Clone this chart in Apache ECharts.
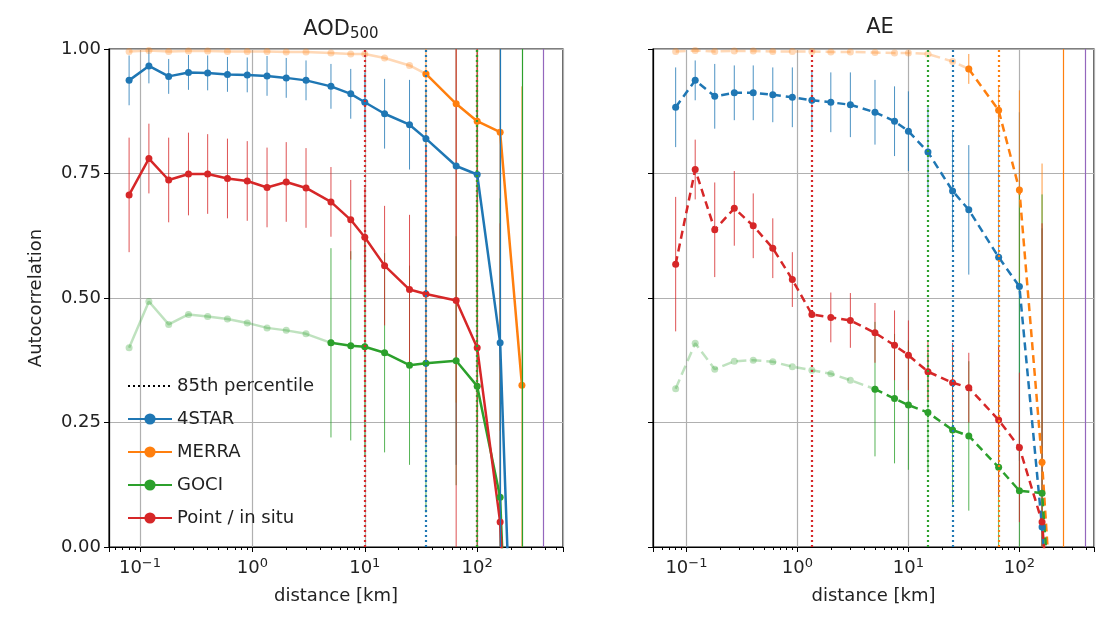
<!DOCTYPE html>
<html><head><meta charset="utf-8">
<script src="https://cdn.jsdelivr.net/npm/echarts@6/dist/echarts.min.js"></script>
<style>html,body{margin:0;background:#fff}#main{width:1097px;height:618px}</style>
</head><body><div id="main"></div>
<script>
const dist = [0.08, 0.12, 0.18, 0.27, 0.4, 0.6, 0.9, 1.35, 2, 3, 5, 7.5, 10, 15, 25, 35, 65, 100, 160, 250]

// AOD500 (left)
const aodStar = [0.937, 0.966, 0.945, 0.953, 0.952, 0.949, 0.948, 0.946, 0.942, 0.937, 0.925, 0.91, 0.893, 0.87, 0.848, 0.82, 0.765, 0.748, 0.41, -0.83]
const aodStarErr = [0.05, 0.035, 0.035, 0.035, 0.035, 0.035, 0.035, 0.04, 0.04, 0.04, 0.045, 0.05, 0.06, 0.07, 0.09, 0.1, 0.6, 0.6, 0.6, 0]
const aodMerra = [0.995, 0.997, 0.995, 0.996, 0.996, 0.995, 0.995, 0.995, 0.994, 0.994, 0.992, 0.99, 0.99, 0.982, 0.967, 0.95, 0.89, 0.855, 0.833, 0.325]
const aodMerraErr = [0, 0, 0, 0, 0, 0, 0, 0, 0, 0, 0, 0, 0, 0, 0, 0.3, 0.6, 0.6, 0.6, 0.6]
const aodGoci = [0.40, 0.493, 0.447, 0.467, 0.463, 0.458, 0.45, 0.44, 0.435, 0.428, 0.41, 0.404, 0.402, 0.39, 0.365, 0.369, 0.374, 0.323, 0.1, -1.0]
const aodGociErr = [0, 0, 0, 0, 0, 0, 0, 0, 0, 0, 0.19, 0.19, 0.22, 0.2, 0.2, 0.3, 0.25, 0.6, 0.6, 0.6]
const aodPoint = [0.707, 0.78, 0.737, 0.749, 0.749, 0.74, 0.735, 0.722, 0.733, 0.721, 0.693, 0.657, 0.622, 0.565, 0.517, 0.508, 0.495, 0.40, 0.05, -0.8]
const aodPointErr = [0.115, 0.07, 0.085, 0.083, 0.08, 0.08, 0.08, 0.08, 0.08, 0.08, 0.07, 0.08, 0.1, 0.12, 0.15, 0.3, 0.6, 0.6, 0.6, 0]
const aodCut = { star: 0, merra: 15, goci: 10, point: 0 }
const aodP85 = { point: 10, star: 35, goci: 100, merra: 100 }

// AE (right)
const aeStar = [0.883, 0.937, 0.905, 0.912, 0.912, 0.908, 0.903, 0.897, 0.893, 0.888, 0.873, 0.855, 0.835, 0.793, 0.715, 0.677, 0.582, 0.523, 0.04, -0.5]
const aeStarErr = [0.08, 0.04, 0.065, 0.055, 0.055, 0.055, 0.06, 0.06, 0.06, 0.065, 0.065, 0.07, 0.08, 0.09, 0.12, 0.13, 0.3, 0.35, 0.6, 0]
const aeMerra = [0.995, 0.997, 0.995, 0.996, 0.996, 0.995, 0.995, 0.995, 0.994, 0.994, 0.993, 0.992, 0.992, 0.99, 0.975, 0.96, 0.877, 0.717, 0.17, -0.5]
const aeMerraErr = [0, 0, 0, 0, 0, 0, 0, 0, 0, 0, 0, 0, 0, 0, 0, 0.03, 0.05, 0.2, 0.6, 0]
const aeGoci = [0.318, 0.409, 0.357, 0.373, 0.375, 0.372, 0.362, 0.355, 0.348, 0.335, 0.317, 0.298, 0.285, 0.27, 0.235, 0.223, 0.16, 0.113, 0.108, -0.5]
const aeGociErr = [0, 0, 0, 0, 0, 0, 0, 0, 0, 0, 0.135, 0.13, 0.13, 0.12, 0.15, 0.15, 0.16, 0.6, 0.6, 0]
const aePoint = [0.568, 0.758, 0.637, 0.68, 0.645, 0.6, 0.537, 0.467, 0.461, 0.455, 0.43, 0.405, 0.385, 0.352, 0.33, 0.32, 0.255, 0.2, 0.05, -0.5]
const aePointErr = [0.135, 0.06, 0.095, 0.075, 0.065, 0.06, 0.055, 0.0, 0.05, 0.055, 0.06, 0.07, 0.07, 0.06, 0.08, 0.07, 0.15, 0.15, 0.6, 0]
const aeCut = { star: 0, merra: 15, goci: 10, point: 0 }
const aeP85 = { point: 1.35, goci: 15, star: 25, merra: 65 }

const colors = { star: '#1f77b4', merra: '#ff7f0e', goci: '#2ca02c', point: '#d62728' }
const names = { star: '4STAR', merra: 'MERRA', goci: 'GOCI', point: 'Point / in situ' }
const xTicks = [0.1, 1, 10, 100]

const panels = [
  { vals: { star: aodStar, merra: aodMerra, goci: aodGoci, point: aodPoint },
    errs: { star: aodStarErr, merra: aodMerraErr, goci: aodGociErr, point: aodPointErr },
    cut: aodCut, p85: aodP85, dash: 'solid' },
  { vals: { star: aeStar, merra: aeMerra, goci: aeGoci, point: aePoint },
    errs: { star: aeStarErr, merra: aeMerraErr, goci: aeGociErr, point: aePointErr },
    cut: aeCut, p85: aeP85, dash: 'dashed' }
]

const chart = echarts.init(document.getElementById('main'))
const series = []
const order = ['star', 'merra', 'goci', 'point']

series.push({ name: '85th percentile', type: 'line', xAxisIndex: 0, yAxisIndex: 0, data: [],
  symbol: 'none', lineStyle: { color: '#000', type: [2, 3], width: 2 }, itemStyle: { color: '#000' } })

panels.forEach((p, pi) => {
  order.forEach(k => {
    const v = p.vals[k], e = p.errs[k], c = p.cut[k]
    const pts = dist.map((d, i) => [d, v[i]])
    // error bars
    series.push({ type: 'custom', xAxisIndex: pi, yAxisIndex: pi, clip: true, silent: true,
      data: dist.map((d, i) => [d, v[i], e[i]]).filter((r, i) => i >= c && r[2] > 0),
      renderItem: (params, api) => {
        const a = api.coord([api.value(0), api.value(1) - api.value(2)])
        const b = api.coord([api.value(0), api.value(1) + api.value(2)])
        return { type: 'line', shape: { x1: a[0], y1: a[1], x2: b[0], y2: b[1] },
          style: { stroke: colors[k], lineWidth: 1, opacity: 0.8 } }
      }, z: 1 })
    if (c > 0) {
      series.push({ type: 'line', xAxisIndex: pi, yAxisIndex: pi, data: pts.slice(0, c + 1),
        symbol: 'circle', symbolSize: 7, clip: true, silent: true,
        lineStyle: { color: colors[k], width: 2.5, opacity: 0.3, type: p.dash },
        itemStyle: { color: colors[k], opacity: 0.3 }, z: 2 })
    }
    series.push({ name: names[k], type: 'line', xAxisIndex: pi, yAxisIndex: pi, data: pts.slice(c),
      symbol: 'circle', symbolSize: 7, clip: true,
      lineStyle: { color: colors[k], width: 2.5, type: pi ? [8, 5] : 'solid' },
      itemStyle: { color: colors[k] }, z: 3,
      markLine: { silent: true, symbol: 'none', label: { show: false },
        lineStyle: { color: colors[k], type: [2, 3], width: 2.2, opacity: 1 },
        data: [{ xAxis: p.p85[k] }] } })
  })
})

// long vertical error bars at far bins
const farLines = [
  { pi: 0, x: 160, c: colors.star }, { pi: 0, x: 250, c: colors.goci }, { pi: 0, x: 390, c: '#9467bd' },
  { pi: 1, x: 250, c: colors.merra }, { pi: 1, x: 390, c: '#9467bd' }
]
farLines.forEach(f => series.push({ type: 'line', xAxisIndex: f.pi, yAxisIndex: f.pi, data: [], silent: true,
  markLine: { symbol: 'none', label: { show: false }, lineStyle: { color: f.c, type: 'solid', width: 1.2 },
    data: [{ xAxis: f.x }] } }))

const xAxisBase = (min, max) => ({
  type: 'log', logBase: 10, min: min, max: max,
  name: 'distance [km]', nameLocation: 'middle', nameGap: 40,
  nameTextStyle: { fontSize: 18, color: '#222', fontFamily: 'DejaVu Sans' },
  axisLine: { onZero: false, lineStyle: { color: '#000', width: 1.2 } },
  axisTick: { inside: false, length: 5, lineStyle: { color: '#000' } },
  minorTick: { show: true, splitNumber: 9, length: 3, lineStyle: { color: '#000' } },
  splitLine: { show: true, lineStyle: { color: '#b0b0b0', width: 1.2 } },
  axisLabel: { fontSize: 18, color: '#222', fontFamily: 'DejaVu Sans', margin: 10,
    formatter: v => {
      const e = Math.round(Math.log10(v))
      return xTicks.some(t => Math.abs(t - v) < 1e-9) ? '10{s|' + (e < 0 ? '−' + (-e) : e) + '}' : ''
    },
    rich: { s: { fontSize: 13, verticalAlign: 'top', padding: [0, 0, 10, 0], fontFamily: 'DejaVu Sans' } } }
})
const yAxisBase = (show) => ({
  type: 'value', min: 0, max: 1, interval: 0.25,
  name: show ? 'Autocorrelation' : '', nameLocation: 'middle', nameGap: 64,
  nameTextStyle: { fontSize: 18, color: '#222', fontFamily: 'DejaVu Sans' },
  axisLine: { show: true, lineStyle: { color: '#000', width: 1.2 } },
  axisTick: { show: true, length: 5, lineStyle: { color: '#000' } },
  splitLine: { show: true, lineStyle: { color: '#b0b0b0', width: 1.2 } },
  axisLabel: { show: show, fontSize: 18, color: '#222', fontFamily: 'DejaVu Sans',
    formatter: v => v.toFixed(2) }
})

chart.setOption({
  animation: false,
  title: [
    { text: 'AOD{s|500}', left: 336, top: 12, textAlign: 'center',
      textStyle: { fontSize: 21, fontWeight: 'normal', color: '#222', fontFamily: 'DejaVu Sans',
        rich: { s: { fontSize: 15, verticalAlign: 'bottom', padding: [10, 0, 0, 0], fontFamily: 'DejaVu Sans' } } } },
    { text: 'AE', left: 875, top: 12, textAlign: 'center',
      textStyle: { fontSize: 21, fontWeight: 'normal', color: '#222', fontFamily: 'DejaVu Sans' } }
  ],
  grid: [
    { left: 109, top: 49, width: 454, height: 498, show: true, borderColor: '#000', borderWidth: 1.2 },
    { left: 653, top: 49, width: 443, height: 498, show: true, borderColor: '#000', borderWidth: 1.2 }
  ],
  legend: { orient: 'vertical', left: 122, top: 372, itemGap: 15, itemWidth: 44, itemHeight: 14,
    textStyle: { fontSize: 18, color: '#222', fontFamily: 'DejaVu Sans' },
    data: [{ name: '85th percentile', itemStyle: { opacity: 0 } }, '4STAR', 'MERRA', 'GOCI', 'Point / in situ'] },
  xAxis: [Object.assign(xAxisBase(0.053, 580), { gridIndex: 0 }), Object.assign(xAxisBase(0.05, 470), { gridIndex: 1 })],
  yAxis: [Object.assign(yAxisBase(true), { gridIndex: 0 }), Object.assign(yAxisBase(false), { gridIndex: 1 })],
  series: series
})
</script></body></html>
